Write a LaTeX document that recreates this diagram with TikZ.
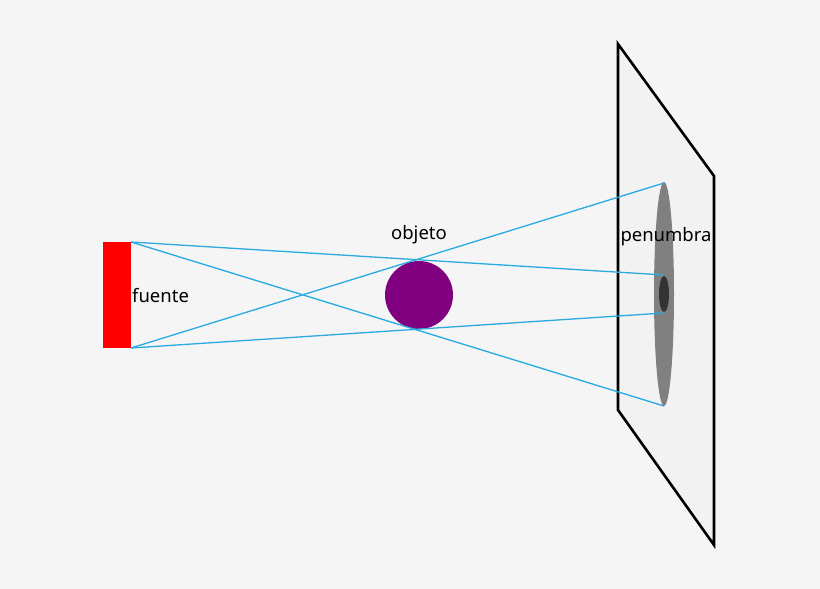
\documentclass[tikz,border=0pt]{standalone}
\usepackage{fontspec}
\setmainfont{Noto Sans}
\definecolor{bg}{HTML}{F5F5F5}
\definecolor{ray}{HTML}{29ABE2}
\definecolor{obj}{HTML}{800080}
\begin{document}
\begin{tikzpicture}[x=1pt,y=-1pt,
  raystyle/.style={draw=ray,line width=1.3pt},
  lbl/.style={font=\fontsize{18.5}{21}\selectfont,inner sep=0pt}]
\fill[bg] (0,0) rectangle (820,589);
\useasboundingbox (0,0) rectangle (820,589);
\draw[line width=2.6pt,fill=black!5,line join=miter] (618,44) -- (714,176) -- (714,545) -- (618,410) -- cycle;
\fill[gray] (664,294) ellipse [x radius=10,y radius=112];
\fill[black!80] (664,294) ellipse [x radius=5,y radius=18];
\node[fill=red,minimum width=28pt,minimum height=106pt,inner sep=0pt] (src) at (117,295) {};
\fill[obj] (419,295) circle[radius=34];
\coordinate (st) at (131,242);
\coordinate (sb) at (131,348);
\coordinate (p1) at (664,183);
\coordinate (p2) at (664,275);
\coordinate (p3) at (664,313);
\coordinate (p4) at (664,406);
\draw[raystyle] (st) -- (p2);
\draw[raystyle] (st) -- (p4);
\draw[raystyle] (sb) -- (p1);
\draw[raystyle] (sb) -- (p3);
\node[lbl,anchor=west] (f) at (132,296) {fuente};
\node[lbl] (o) at (419,235) {objeto};
\node[lbl] (p) at (666,237) {penumbra};
\end{tikzpicture}
\end{document}
